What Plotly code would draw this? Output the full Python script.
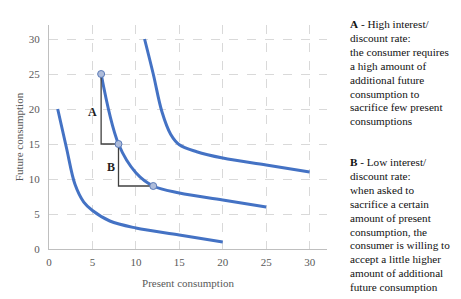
import plotly.graph_objects as go

# Indifference curves (present, future)
low_x = [1, 2, 3, 4, 5, 7, 10, 15, 20]
low_y = [20, 14.5, 9.2, 6.7, 5.5, 4.0, 3.0, 2.0, 1.0]

mid_x = [6, 8, 10, 12, 15, 20, 25]
mid_y = [25, 15, 10.9, 9, 8, 7, 6]

high_x = [11, 12, 13, 14, 15, 17, 20, 25, 30]
high_y = [30, 25, 19.6, 16.4, 14.9, 13.9, 13, 12, 11]

pts_x = [6, 8, 12]
pts_y = [25, 15, 9]

tri_a_x = [6, 6, 8]
tri_a_y = [25, 15, 15]
tri_b_x = [8, 8, 12]
tri_b_y = [15, 9, 9]

x_ticks = [0, 5, 10, 15, 20, 25, 30]
y_ticks = [0, 5, 10, 15, 20, 25, 30]

text_a = ["<b>A</b> - High interest/", "discount rate:", "the consumer requires",
          "a high amount of", "additional future", "consumption to",
          "sacrifice few present", "consumptions"]
text_b = ["<b>B</b> - Low interest/", "discount rate:", "when asked to",
          "sacrifice a certain", "amount of present", "consumption, the",
          "consumer is willing to", "accept a little higher",
          "amount of additional", "future consumption"]

BLUE = "#4472C4"
GRAY = "#595959"
SERIF = "Liberation Serif"

OFF = 8  # page body margin
W, H = 461 - OFF, 299 - OFF
L, T, PW, PH = 48.5 - OFF, 25 - OFF, 278.5, 224

fig = go.Figure()
for xs, ys in [(low_x, low_y), (mid_x, mid_y), (high_x, high_y)]:
    fig.add_trace(go.Scatter(x=xs, y=ys, mode="lines",
                             line=dict(color=BLUE, width=3, shape="spline", smoothing=1),
                             hoverinfo="skip"))
for xs, ys in [(tri_a_x, tri_a_y), (tri_b_x, tri_b_y)]:
    fig.add_trace(go.Scatter(x=xs, y=ys, mode="lines",
                             line=dict(color="#404040", width=1.3), hoverinfo="skip"))
fig.add_trace(go.Scatter(x=pts_x, y=pts_y, mode="markers",
                         marker=dict(size=7, color="#AEBCDA", line=dict(color="#5B7BB8", width=1))))

fig.add_annotation(x=5.0, y=19.6, text="<b>A</b>", showarrow=False,
                   font=dict(family=SERIF, size=12, color="#222"))
fig.add_annotation(x=7.1, y=11.7, text="<b>B</b>", showarrow=False,
                   font=dict(family=SERIF, size=12, color="#222"))

def px_to_paper(px, py):
    px -= OFF
    py -= OFF
    return (px - L) / PW, (T + PH - py) / PH

for i, t in enumerate(text_a):
    xp, yp = px_to_paper(348, 24 + i * 13.9)
    fig.add_annotation(xref="paper", yref="paper", x=xp, y=yp, text=t, showarrow=False,
                       xanchor="left", yanchor="middle",
                       font=dict(family=SERIF, size=11.2, color="#111"))
for i, t in enumerate(text_b):
    xp, yp = px_to_paper(348, 162 + i * 13.9)
    fig.add_annotation(xref="paper", yref="paper", x=xp, y=yp, text=t, showarrow=False,
                       xanchor="left", yanchor="middle",
                       font=dict(family=SERIF, size=11.2, color="#111"))

fig.update_layout(
    width=W, height=H,
    margin=dict(l=L, r=W - L - PW, t=T, b=H - T - PH, autoexpand=False),
    paper_bgcolor="white", plot_bgcolor="white",
    showlegend=False,
    font=dict(family=SERIF, size=11, color=GRAY),
)
fig.update_xaxes(range=[0, 32], tickvals=x_ticks, showgrid=True, gridcolor="#D9D9D9",
                 griddash="dash", gridwidth=1, zeroline=False, showline=True,
                 linecolor="#BFBFBF", linewidth=1, ticks="", automargin=False,
                 ticklabelstandoff=3,
                 title=dict(text="Present consumption", font=dict(size=11, color=GRAY), standoff=12),
                 tickfont=dict(size=11, color=GRAY))
fig.update_yaxes(range=[0, 32], tickvals=y_ticks, showgrid=True, gridcolor="#D9D9D9",
                 griddash="dash", gridwidth=1, zeroline=False, showline=True,
                 linecolor="#BFBFBF", linewidth=1, ticks="", automargin=False,
                 ticklabelstandoff=6,
                 title=dict(text="Future consumption", font=dict(size=11, color=GRAY), standoff=2),
                 tickfont=dict(size=11, color=GRAY))

fig.write_html("out.html")
